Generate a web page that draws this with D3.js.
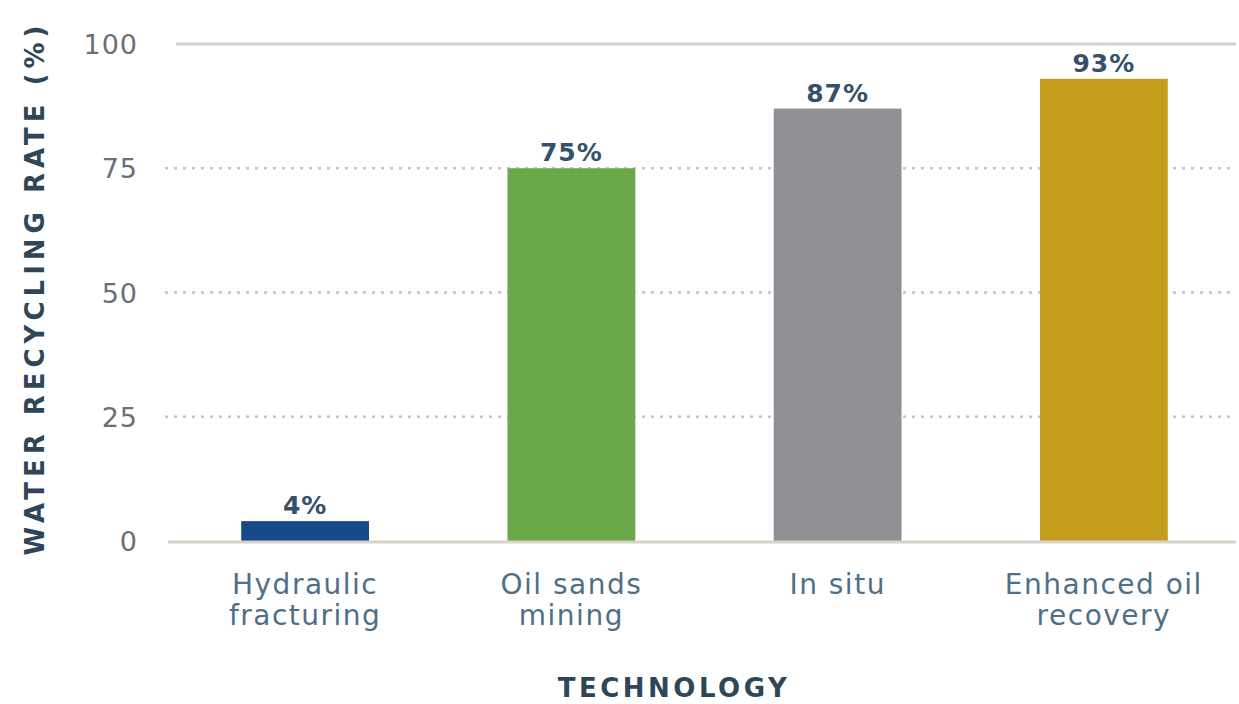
<!DOCTYPE html>
<html>
<head>
<meta charset="utf-8">
<script src="https://cdn.jsdelivr.net/npm/d3@7"></script>
<style>
  html, body { margin: 0; padding: 0; background: #fff; }
  svg { display: block; font-family: "DejaVu Sans", "Noto Sans", sans-serif; }
</style>
</head>
<body>
<svg id="chart" width="1239" height="704"></svg>
<script>
// Water recycling rate by extraction technology
const categories = ["Hydraulic fracturing", "Oil sands mining", "In situ", "Enhanced oil recovery"];
const categoryLines = [["Hydraulic", "fracturing"], ["Oil sands", "mining"], ["In situ"], ["Enhanced oil", "recovery"]];
const rates = [4, 75, 87, 93];
const barColors = ["#174a88", "#6aa84a", "#8f8f94", "#c49d1c"];
const yTicks = [0, 25, 50, 75, 100];

const svg = d3.select("#chart");
const margin = { left: 172, right: 2, top: 44, bottom: 163 };
const W = 1239, H = 704;

const x = d3.scaleBand()
  .domain(categories)
  .range([margin.left, W - margin.right])
  .paddingInner(0.52)
  .paddingOuter(0.26);

const y = d3.scaleLinear()
  .domain([0, 100])
  .range([H - margin.bottom, margin.top]);

// Gridlines: solid at the top, dotted in between
svg.append("g")
  .selectAll("line")
  .data(yTicks.filter(t => t > 0))
  .join("line")
  .attr("x1", d => d === 100 ? 176 : 165)
  .attr("x2", W - 3)
  .attr("y1", d => y(d))
  .attr("y2", d => y(d))
  .attr("stroke", d => d === 100 ? "#cfcfcf" : "#c4c4c4")
  .attr("stroke-width", d => d === 100 ? 3 : 2.5)
  .attr("stroke-dasharray", d => d === 100 ? null : "3,6");

// Y axis tick labels
const yAxis = d3.axisLeft(y).tickValues(yTicks).tickSize(0).tickPadding(0);
const gy = svg.append("g")
  .attr("transform", `translate(${138},0)`)
  .call(yAxis);
gy.select(".domain").remove();
gy.selectAll("text")
  .attr("fill", "#6b7075")
  .attr("font-family", "DejaVu Sans, sans-serif")
  .attr("font-size", 27)
  .attr("letter-spacing", 1)
  .attr("dy", "0.36em");

// Bars
svg.append("g")
  .selectAll("rect")
  .data(categories)
  .join("rect")
  .attr("x", d => x(d))
  .attr("width", x.bandwidth())
  .attr("y", (d, i) => y(rates[i]))
  .attr("height", (d, i) => y(0) - y(rates[i]))
  .attr("fill", (d, i) => barColors[i]);

// Baseline
svg.append("line")
  .attr("x1", margin.left - 4)
  .attr("x2", W - 3)
  .attr("y1", y(0) + 1)
  .attr("y2", y(0) + 1)
  .attr("stroke", "#d8d2ca")
  .attr("stroke-width", 3);

// Value labels
svg.append("g")
  .selectAll("text")
  .data(categories)
  .join("text")
  .attr("x", d => x(d) + x.bandwidth() / 2)
  .attr("y", (d, i) => y(rates[i]) - 7)
  .attr("text-anchor", "middle")
  .attr("font-size", 25)
  .attr("font-weight", "bold")
  .attr("letter-spacing", 1)
  .attr("fill", "#34506a")
  .text((d, i) => rates[i] + "%");

// Category labels
const xl = svg.append("g")
  .selectAll("text")
  .data(categories)
  .join("text")
  .attr("x", d => x(d) + x.bandwidth() / 2)
  .attr("y", 594)
  .attr("text-anchor", "middle")
  .attr("font-size", 28)
  .attr("letter-spacing", 1.5)
  .attr("fill", "#4f6f88");
xl.selectAll("tspan")
  .data((d, i) => categoryLines[i])
  .join("tspan")
  .attr("x", function () { return d3.select(this.parentNode).attr("x"); })
  .attr("dy", (d, i) => i === 0 ? 0 : 31)
  .text(d => d);

// Axis titles
svg.append("text")
  .attr("x", 674)
  .attr("y", 697)
  .attr("text-anchor", "middle")
  .attr("font-size", 26)
  .attr("font-weight", "bold")
  .attr("letter-spacing", 3.5)
  .attr("fill", "#2f4658")
  .text("TECHNOLOGY");

svg.append("text")
  .attr("transform", "translate(44,288) rotate(-90)")
  .attr("text-anchor", "middle")
  .attr("font-size", 26)
  .attr("font-weight", "bold")
  .attr("letter-spacing", 5)
  .attr("fill", "#2f4658")
  .text("WATER RECYCLING RATE (%)");
</script>
</body>
</html>
